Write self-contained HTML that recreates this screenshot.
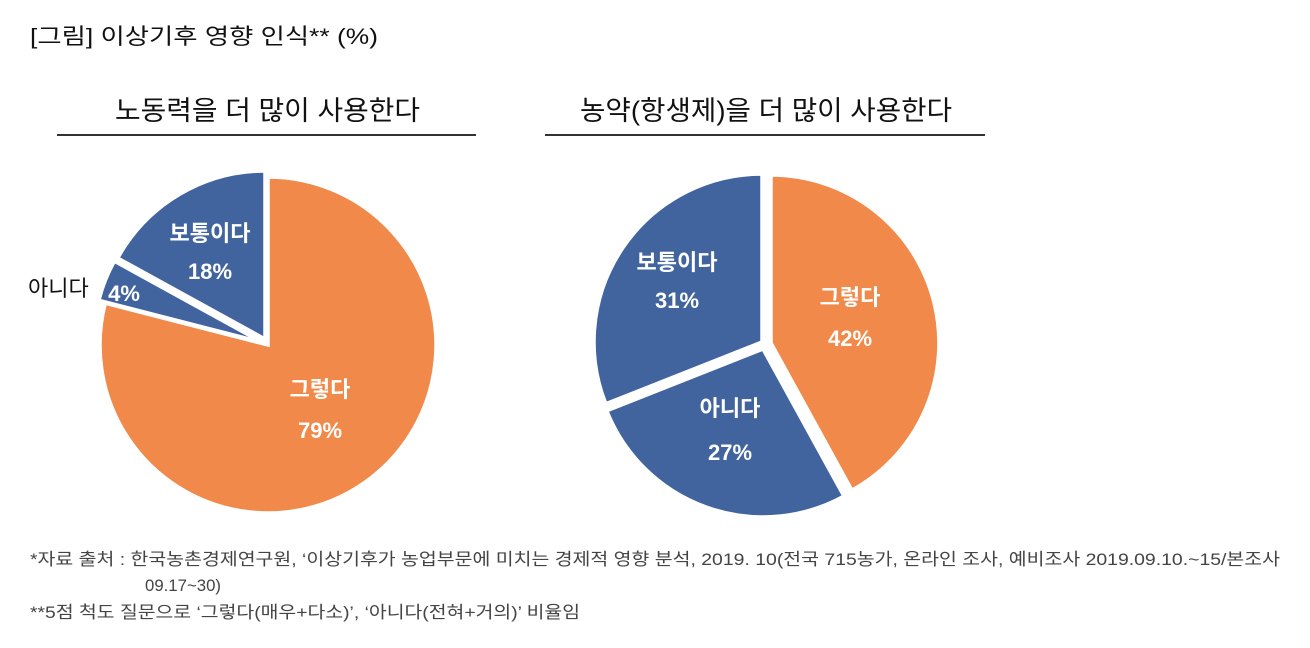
<!DOCTYPE html>
<html><head><meta charset="utf-8"><style>
html,body{margin:0;padding:0;background:#fff}
svg{display:block;font-family:"Liberation Sans","Noto Sans CJK KR",sans-serif}
</style></head><body>
<svg width="1310" height="648" viewBox="0 0 1310 648" xmlns="http://www.w3.org/2000/svg">
<text x="30" y="44" font-size="22" fill="#111" textLength="348" lengthAdjust="spacingAndGlyphs">[그림] 이상기후 영향 인식** (%)</text>
<text x="115" y="120" font-size="27" fill="#111" textLength="305" lengthAdjust="spacingAndGlyphs">노동력을 더 많이 사용한다</text>
<line x1="57" y1="135" x2="476" y2="135" stroke="#333" stroke-width="2"/>
<text x="580" y="120" font-size="27" fill="#111" textLength="372" lengthAdjust="spacingAndGlyphs">농약(항생제)을 더 많이 사용한다</text>
<line x1="545" y1="135" x2="985" y2="135" stroke="#333" stroke-width="2"/>

<g stroke="#fff" stroke-width="3.5" stroke-linejoin="miter">
<path d="M268,345 L268,177 A168,168 0 1 1 105.3,303.2 Z" fill="#F0894A"/>
<path d="M261.6,342.1 L98.9,300.3 A168,168 0 0 1 114.4,261.2 Z" fill="#41649E"/>
<path d="M265,339 L117.8,258.1 A168,168 0 0 1 265,171 Z" fill="#41649E"/>
<path d="M771,343 L771,175 A168,168 0 0 1 851.9,490.2 Z" fill="#F0894A"/>
<path d="M763,349 L843.9,496.2 A168,168 0 0 1 606.8,410.8 Z" fill="#41649E"/>
<path d="M762,342 L605.8,403.8 A168,168 0 0 1 762,174 Z" fill="#41649E"/>
</g>

<g fill="#fff" font-size="22" font-weight="bold" text-anchor="middle">
<text x="210" y="241">보통이다</text><text x="210" y="279">18%</text>
<text x="124" y="301">4%</text>
<text x="320" y="397">그렇다</text><text x="320" y="438">79%</text>
<text x="677" y="270">보통이다</text><text x="677" y="308">31%</text>
<text x="730" y="416">아니다</text><text x="730" y="460">27%</text>
<text x="850" y="305">그렇다</text><text x="850" y="346">42%</text>
</g>
<text x="28" y="296" font-size="22" fill="#111">아니다</text>

<g font-size="17" fill="#444">
<text x="30" y="565" textLength="1250" lengthAdjust="spacingAndGlyphs">*자료 출처 : 한국농촌경제연구원, ‘이상기후가 농업부문에 미치는 경제적 영향 분석, 2019. 10(전국 715농가, 온라인 조사, 예비조사 2019.09.10.~15/본조사</text>
<text x="145" y="591" textLength="76" lengthAdjust="spacingAndGlyphs">09.17~30)</text>
<text x="30" y="618" textLength="550" lengthAdjust="spacingAndGlyphs">**5점 척도 질문으로 ‘그렇다(매우+다소)’, ‘아니다(전혀+거의)’ 비율임</text>
</g>
</svg>
</body></html>
